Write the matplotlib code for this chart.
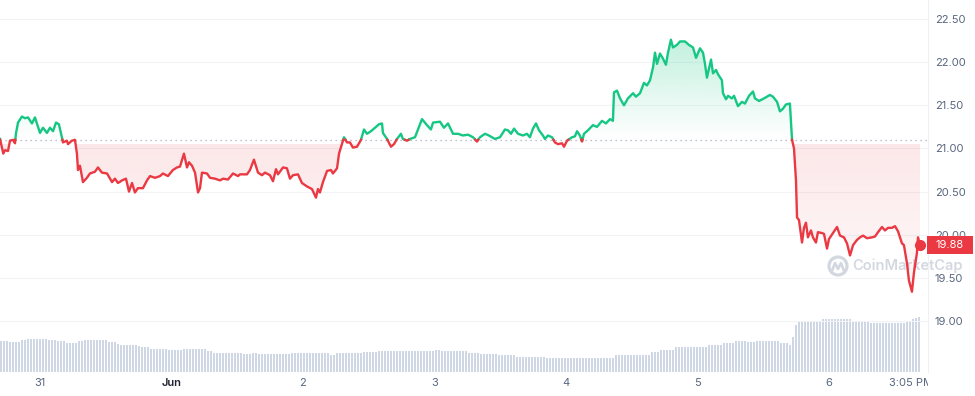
import matplotlib

matplotlib.use("Agg")

import matplotlib.pyplot as plt
import numpy as np
from matplotlib.colors import to_rgb
from matplotlib.lines import Line2D
from matplotlib.patches import Circle, PathPatch, Rectangle
from matplotlib.path import Path
from matplotlib.transforms import Bbox, TransformedBbox, blended_transform_factory


# time axis: days since 31 May 00:00
PRICE_DAY = [
    -0.304, -0.291, -0.279, -0.266, -0.243, -0.228, -0.205, -0.190, -0.183, -0.167,
    -0.137, -0.114, -0.091, -0.061, -0.038, 0.000, 0.023, 0.053, 0.076, 0.099,
    0.122, 0.144, 0.167, 0.175, 0.205, 0.213, 0.243, 0.266, 0.281, 0.289,
    0.304, 0.327, 0.357, 0.380, 0.418, 0.441, 0.471, 0.510, 0.548, 0.570,
    0.593, 0.624, 0.654, 0.677, 0.700, 0.722, 0.745, 0.783, 0.814, 0.837,
    0.875, 0.913, 0.935, 0.973, 1.011, 1.042, 1.065, 1.095, 1.118, 1.133,
    1.156, 1.179, 1.202, 1.217, 1.232, 1.270, 1.293, 1.331, 1.369, 1.392,
    1.430, 1.468, 1.506, 1.521, 1.574, 1.597, 1.627, 1.658, 1.688, 1.711,
    1.749, 1.772, 1.795, 1.810, 1.848, 1.878, 1.901, 1.924, 1.962, 1.992,
    2.030, 2.068, 2.099, 2.114, 2.129, 2.152, 2.183, 2.213, 2.228, 2.259,
    2.274, 2.312, 2.335, 2.357, 2.380, 2.411, 2.441, 2.464, 2.487, 2.517,
    2.548, 2.578, 2.601, 2.608, 2.639, 2.669, 2.692, 2.715, 2.745, 2.760,
    2.791, 2.814, 2.852, 2.905, 2.943, 2.973, 2.989, 3.042, 3.072, 3.103,
    3.141, 3.179, 3.217, 3.255, 3.293, 3.323, 3.346, 3.384, 3.414, 3.460,
    3.498, 3.536, 3.559, 3.582, 3.605, 3.635, 3.673, 3.703, 3.726, 3.749,
    3.772, 3.795, 3.825, 3.840, 3.863, 3.894, 3.916, 3.939, 3.970, 3.985,
    4.008, 4.046, 4.068, 4.084, 4.106, 4.122, 4.137, 4.167, 4.205, 4.236,
    4.274, 4.304, 4.335, 4.357, 4.365, 4.388, 4.411, 4.441, 4.471, 4.510,
    4.532, 4.563, 4.593, 4.616, 4.639, 4.662, 4.677, 4.692, 4.715, 4.738,
    4.760, 4.776, 4.798, 4.814, 4.844, 4.867, 4.905, 4.935, 4.966, 4.989,
    5.019, 5.042, 5.057, 5.072, 5.103, 5.118, 5.141, 5.156, 5.186, 5.194,
    5.217, 5.232, 5.262, 5.278, 5.308, 5.338, 5.361, 5.392, 5.422, 5.437,
    5.468, 5.506, 5.551, 5.574, 5.605, 5.627, 5.650, 5.673, 5.703, 5.719,
    5.734, 5.749, 5.757, 5.772, 5.795, 5.810, 5.825, 5.840, 5.863, 5.878,
    5.901, 5.916, 5.947, 5.962, 5.985, 6.000, 6.030, 6.061, 6.084, 6.114,
    6.137, 6.160, 6.183, 6.213, 6.236, 6.259, 6.289, 6.327, 6.350, 6.373,
    6.403, 6.426, 6.449, 6.479, 6.502, 6.525, 6.555, 6.570, 6.593, 6.608,
    6.631, 6.646, 6.669, 6.677, 6.692,
]

PRICE = [
    21.11, 21.02, 20.94, 20.98, 20.97, 21.09, 21.10, 21.06, 21.17, 21.30,
    21.37, 21.35, 21.36, 21.29, 21.36, 21.18, 21.24, 21.18, 21.24, 21.20,
    21.30, 21.28, 21.13, 21.07, 21.09, 21.05, 21.09, 21.10, 20.94, 20.75,
    20.80, 20.61, 20.66, 20.71, 20.73, 20.78, 20.72, 20.71, 20.61, 20.65,
    20.60, 20.63, 20.65, 20.50, 20.60, 20.49, 20.54, 20.54, 20.63, 20.68,
    20.66, 20.68, 20.71, 20.68, 20.75, 20.78, 20.79, 20.94, 20.78, 20.84,
    20.80, 20.72, 20.49, 20.54, 20.72, 20.71, 20.66, 20.65, 20.63, 20.65,
    20.64, 20.71, 20.68, 20.70, 20.70, 20.75, 20.87, 20.72, 20.69, 20.72,
    20.69, 20.62, 20.76, 20.70, 20.78, 20.77, 20.65, 20.69, 20.70, 20.60,
    20.56, 20.53, 20.43, 20.53, 20.49, 20.61, 20.74, 20.75, 20.71, 20.77,
    20.94, 21.13, 21.07, 21.07, 21.01, 21.02, 21.10, 21.22, 21.17, 21.20,
    21.24, 21.28, 21.29, 21.18, 21.11, 21.02, 21.05, 21.11, 21.17, 21.11,
    21.09, 21.11, 21.13, 21.34, 21.27, 21.22, 21.30, 21.31, 21.24, 21.29,
    21.17, 21.17, 21.15, 21.16, 21.13, 21.08, 21.13, 21.17, 21.15, 21.11,
    21.13, 21.22, 21.21, 21.17, 21.23, 21.17, 21.15, 21.17, 21.13, 21.23,
    21.29, 21.21, 21.15, 21.11, 21.15, 21.13, 21.07, 21.05, 21.06, 21.02,
    21.09, 21.13, 21.14, 21.20, 21.15, 21.08, 21.17, 21.21, 21.27, 21.25,
    21.32, 21.29, 21.34, 21.32, 21.65, 21.67, 21.58, 21.50, 21.58, 21.64,
    21.60, 21.64, 21.76, 21.73, 21.79, 21.94, 22.11, 21.98, 22.10, 22.04,
    21.97, 22.11, 22.26, 22.17, 22.20, 22.24, 22.24, 22.20, 22.17, 22.05,
    22.16, 22.11, 21.98, 21.82, 22.03, 21.87, 21.91, 21.86, 21.79, 21.64,
    21.57, 21.61, 21.58, 21.61, 21.49, 21.54, 21.52, 21.61, 21.66, 21.58,
    21.55, 21.58, 21.62, 21.60, 21.54, 21.43, 21.46, 21.51, 21.52, 21.10,
    21.00, 20.63, 20.20, 20.17, 19.91, 20.08, 20.14, 19.97, 20.05, 19.97,
    19.91, 20.03, 20.02, 20.01, 19.84, 19.95, 20.02, 20.09, 19.99, 19.97,
    19.90, 19.76, 19.88, 19.94, 19.97, 19.99, 19.96, 19.97, 19.98, 20.03,
    20.09, 20.05, 20.08, 20.08, 20.10, 20.04, 19.90, 19.88, 19.67, 19.47,
    19.34, 19.56, 19.79, 19.97, 19.88,
]

OPEN_PRICE = 21.10
LAST_PRICE = 19.88

# volume bars (relative units), evenly spaced from first to last bar
VOLUME_FIRST_DAY = -0.293
VOLUME_LAST_DAY = 6.688
VOLUME = [
    30.7, 30.7, 30.7, 30.0, 30.0, 30.0, 30.0, 31.7, 31.7, 32.7, 32.7, 32.7,
    32.7, 32.7, 32.7, 32.7, 32.0, 32.0, 32.0, 31.0, 31.0, 31.0, 29.0, 29.0,
    29.0, 29.0, 30.7, 30.7, 31.7, 31.7, 31.7, 31.7, 31.7, 31.7, 31.7, 31.7,
    30.0, 30.0, 30.0, 28.0, 27.0, 27.0, 27.0, 27.0, 27.0, 27.0, 26.0, 24.7,
    24.7, 24.7, 23.3, 23.3, 23.3, 23.3, 23.3, 23.3, 21.7, 21.7, 21.7, 21.7,
    21.7, 22.7, 22.7, 22.7, 22.7, 22.7, 22.7, 23.3, 23.3, 21.5, 21.5, 19.3,
    19.3, 19.3, 19.3, 19.3, 19.3, 19.3, 19.3, 19.3, 19.3, 18.0, 18.0, 18.0,
    19.0, 19.0, 17.7, 17.7, 17.7, 17.7, 17.7, 17.7, 17.7, 17.7, 17.7, 17.7,
    17.7, 19.0, 19.0, 19.0, 19.0, 19.0, 19.0, 19.0, 19.0, 19.0, 19.0, 19.0,
    19.0, 19.0, 16.7, 16.7, 19.0, 19.0, 19.0, 19.0, 19.0, 19.0, 19.0, 19.0,
    19.0, 20.0, 20.0, 20.0, 20.0, 20.0, 21.0, 21.0, 21.0, 21.0, 21.0, 21.0,
    21.0, 21.0, 21.0, 21.0, 21.0, 21.0, 21.0, 21.0, 21.0, 21.0, 21.0, 21.0,
    21.0, 21.7, 21.7, 20.7, 20.7, 20.7, 20.7, 20.7, 20.7, 20.7, 20.7, 20.7,
    19.3, 19.3, 19.3, 19.3, 18.0, 18.0, 18.0, 18.0, 18.0, 18.0, 16.7,
    17.3, 17.3, 17.3, 17.3, 17.3, 15.5, 15.5, 15.5, 15.5, 15.5, 15.5, 15.5,
    15.5, 15.5, 15.5, 14.3, 14.3, 14.3, 14.3, 14.3, 14.3, 14.3, 14.3, 14.3,
    14.3, 14.3, 14.3, 14.3, 14.3, 14.3, 14.3, 14.3, 14.3, 14.3, 14.3, 14.3,
    14.3, 14.3, 16.7, 16.7, 16.7, 16.7, 17.5, 17.5, 17.5, 17.5, 17.5, 17.5,
    17.5, 17.5, 20.0, 20.0, 20.0, 21.7, 21.7, 21.7, 21.7, 21.7, 24.7, 24.7,
    24.7, 24.7, 24.7, 25.5, 25.5, 25.5, 25.5, 25.5, 25.5, 27.5, 27.5, 27.5,
    27.5, 27.5, 29.0, 29.0, 29.0, 29.0, 31.5, 31.5, 31.5, 31.5, 30.0, 30.0,
    30.0, 30.7, 30.7, 30.7, 30.7, 30.7, 30.7, 30.7, 30.7, 29.5, 29.5, 29.5,
    27.5, 35.0, 47.0, 51.5, 51.5, 51.5, 51.5, 51.5, 51.5, 51.5, 51.5, 52.7,
    52.7, 52.7, 52.7, 52.7, 52.7, 52.7, 52.7, 52.7, 52.7, 50.5, 50.5, 50.5,
    50.5, 50.5, 50.5, 49.5, 49.5, 49.5, 49.5, 49.5, 49.5, 49.5, 49.5, 49.5,
    49.5, 49.0, 49.0, 50.5, 51.5, 53.0, 54.0, 55.0,
]

X_TICKS = [0, 1, 2, 3, 4, 5, 6, 6.628]
X_LABELS = ["31", "Jun", "2", "3", "4", "5", "6", "3:05 PM"]
Y_TICKS = [19.0, 19.5, 20.0, 20.5, 21.0, 21.5, 22.0, 22.5]

GREEN = "#16c784"
RED = "#ea3943"
TEXT_GREY = "#58667e"
VOLUME_COLOR = "#cfd6e4"
WATERMARK = "#d3d8e0"

FIG_W, FIG_H = 975, 396
PLOT_RIGHT = 928
PLOT_BOTTOM = 372
X_RANGE = (-0.304, 6.753)
Y_RANGE = (18.41, 22.72)


def split_at_base(t, v, base):
    # add a point wherever the line crosses the base so the colours meet cleanly
    ts, vs = [t[0]], [v[0]]
    for i in range(1, len(t)):
        if (v[i - 1] - base) * (v[i] - base) < 0:
            f = (base - v[i - 1]) / (v[i] - v[i - 1])
            ts.append(t[i - 1] + f * (t[i] - t[i - 1]))
            vs.append(base)
        ts.append(t[i])
        vs.append(v[i])
    return np.array(ts), np.array(vs)


def gradient_fill(ax, t, v, base, above, color, y_lo, y_hi, a_lo, a_hi):
    mask = v >= base if above else v <= base
    coll = ax.fill_between(t, v, base, where=mask, interpolate=True,
                           facecolor="none", edgecolor="none")
    clip = PathPatch(Path.make_compound_path(*coll.get_paths()),
                     transform=ax.transData, facecolor="none", edgecolor="none")
    ax.add_patch(clip)

    img = np.zeros((256, 2, 4))
    img[:, :, :3] = to_rgb(color)
    img[:, :, 3] = np.linspace(a_lo, a_hi, 256)[:, None]
    im = ax.imshow(img, extent=[t.min(), t.max(), y_lo, y_hi], origin="lower",
                   aspect="auto", interpolation="bilinear", zorder=1)
    im.set_clip_path(clip)


def draw_watermark(fig, ax):
    ax.add_patch(Circle((8.38, 1.30), 0.09, transform=fig.dpi_scale_trans,
                        fill=False, edgecolor=WATERMARK, lw=2.3,
                        clip_on=False, zorder=0.6))
    ax.add_line(Line2D([8.32, 8.35, 8.38, 8.41, 8.44],
                       [1.25, 1.33, 1.27, 1.33, 1.25],
                       transform=fig.dpi_scale_trans, color=WATERMARK, lw=1.9,
                       clip_on=False, zorder=0.6))
    ax.text(852 / FIG_W, 1 - 266 / FIG_H, "CoinMarketCap",
            transform=fig.transFigure, ha="left", va="center", fontsize=10.5,
            fontweight="semibold", color=WATERMARK, clip_on=False, zorder=0.6)


def main():
    plt.rcParams["font.family"] = ["Inter", "DejaVu Sans"]

    fig = plt.figure(figsize=(FIG_W / 100, FIG_H / 100), dpi=100)
    rect = [0, 1 - PLOT_BOTTOM / FIG_H, PLOT_RIGHT / FIG_W, PLOT_BOTTOM / FIG_H]

    # volume underneath
    vol_ax = fig.add_axes(rect)
    vol_x = np.linspace(VOLUME_FIRST_DAY, VOLUME_LAST_DAY, len(VOLUME))
    pitch = vol_x[1] - vol_x[0]
    vol_ax.bar(vol_x, VOLUME, width=pitch * 0.68, color=VOLUME_COLOR, linewidth=0)
    vol_ax.set_xlim(*X_RANGE)
    vol_ax.set_ylim(0, PLOT_BOTTOM)
    vol_ax.axis("off")

    ax = fig.add_axes(rect)
    ax.patch.set_visible(False)

    t, v = split_at_base(np.array(PRICE_DAY), np.array(PRICE), OPEN_PRICE)

    gradient_fill(ax, t, v, OPEN_PRICE, True, GREEN, OPEN_PRICE, 22.30, 0.0, 0.27)
    gradient_fill(ax, t, v, OPEN_PRICE, False, RED, 19.34, 21.05, 0.03, 0.12)

    up = np.where(v >= OPEN_PRICE, v, np.nan)
    down = np.where(v <= OPEN_PRICE, v, np.nan)
    ax.plot(t, up, color=GREEN, lw=1.7, zorder=3, solid_joinstyle="round")
    ax.plot(t, down, color=RED, lw=1.7, zorder=3, solid_joinstyle="round")
    ax.plot(PRICE_DAY[-1], LAST_PRICE, "o", ms=7, color=RED, zorder=4)

    ax.axhline(OPEN_PRICE, color="#a6adbd", lw=0.9, ls=(0, (1, 3)), zorder=2)

    ax.set_xlim(*X_RANGE)
    ax.set_ylim(*Y_RANGE)

    ax.set_yticks(Y_TICKS, [f"{y:.2f}" for y in Y_TICKS])
    ax.yaxis.tick_right()
    ax.grid(axis="y", color="#f1f3f6", lw=0.8)
    ax.set_axisbelow(True)
    ax.tick_params(axis="y", length=0, pad=5, labelsize=8, labelcolor=TEXT_GREY)

    ax.set_xticks(X_TICKS, X_LABELS)
    ax.tick_params(axis="x", length=0, pad=4, labelsize=8, labelcolor=TEXT_GREY)
    clip_box = TransformedBbox(Bbox([[0, 0], [PLOT_RIGHT / FIG_W, 1]]), fig.transFigure)
    for label in ax.get_xticklabels():
        if label.get_text() == "Jun":
            label.set_color("#222531")
            label.set_fontweight("semibold")
        if label.get_text() == "3:05 PM":
            label.set_clip_box(clip_box)
            label.set_clip_on(True)

    for name, spine in ax.spines.items():
        spine.set_visible(name == "right")
    ax.spines["right"].set_color("#eef0f3")

    # last price tag on the right axis
    trans = blended_transform_factory(ax.transAxes, ax.transData)
    ax.add_patch(Rectangle((0.999, LAST_PRICE - 0.104), 0.0496, 0.208,
                           transform=trans, facecolor=RED, edgecolor="none",
                           clip_on=False, zorder=6))
    ax.text(1.0237, LAST_PRICE, f"{LAST_PRICE:.2f}", transform=trans,
            ha="center", va="center", color="white", fontsize=8,
            clip_on=False, zorder=7)

    draw_watermark(fig, ax)

    fig.savefig("out.png", dpi=100)
    plt.close(fig)


if __name__ == "__main__":
    main()
